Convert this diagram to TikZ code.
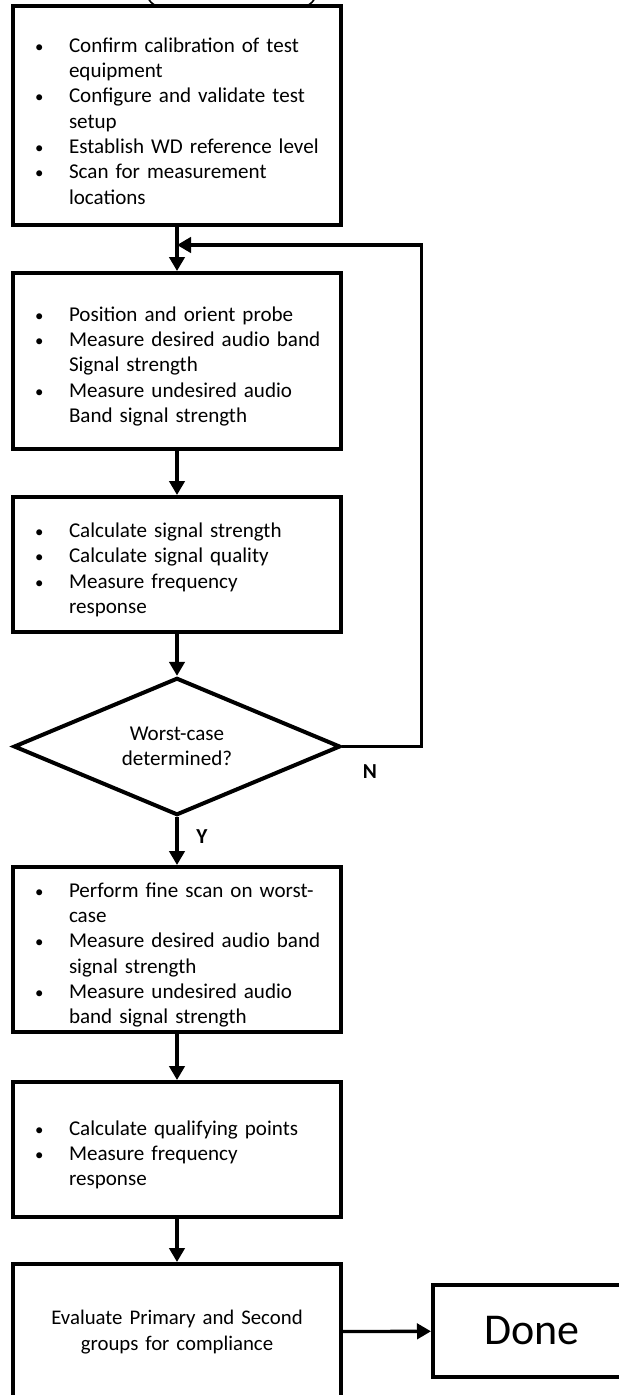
\documentclass[tikz,border=0pt]{standalone}
\usepackage{fontspec}
\setmainfont{Carlito}
\usetikzlibrary{shapes.geometric,arrows.meta}

\newenvironment{stepitems}{%
  \begin{list}{\scalebox{0.8}{\textbullet}}{%
    \setlength\leftmargin{42pt}\setlength\labelwidth{25.5pt}%
    \setlength\labelsep{0pt}\setlength\itemsep{0pt}%
    \setlength\topsep{0pt}\setlength\parsep{0pt}\setlength\partopsep{0pt}%
    \renewcommand\makelabel[1]{##1\hfil}}\raggedright}%
  {\end{list}}

\begin{document}
\begin{tikzpicture}[x=0.75pt,y=-0.75pt]
	\tikzset{
	stepbox/.style={draw,line width=3pt,fill=white,inner sep=0pt,
		minimum width=246pt,text width=246pt,align=left,
		font=\fontsize{15.8pt}{19pt}\selectfont},
	decision/.style={diamond,draw,line width=3pt,fill=white,inner sep=0pt,aspect=2.4,
		minimum width=245pt,minimum height=103pt,align=center,
		font=\fontsize{15.8pt}{19pt}\selectfont},
	arr/.style={line width=2.5pt,-{Triangle[length=10.5pt,width=11.5pt]}},
	yn/.style={font=\fontsize{16pt}{19pt}\selectfont\bfseries}
	}
	\useasboundingbox (0,0) rectangle (618,1395);

	%START (cut off at the top)
	\node (start) [draw,line width=1.2pt,rounded corners=11pt,minimum width=127pt,minimum height=40pt] at (231.5,-20) {};

	\node (prep) [stepbox,minimum height=164.25pt] at (177,115.5) {\begin{stepitems}
		\item Confirm calibration of test\\equipment
		\item Configure and validate test\\setup
		\item Establish WD reference level
		\item Scan for measurement\\locations
	\end{stepitems}};
	\node (probe) [stepbox,minimum height=132pt] at (177,361) {\begin{stepitems}
		\item Position and orient probe
		\item Measure desired audio band\\Signal strength
		\item Measure undesired audio\\Band signal strength
	\end{stepitems}};
	\node (calc) [stepbox,minimum height=101.25pt] at (177,564.5) {\begin{stepitems}
		\item Calculate signal strength
		\item Calculate signal quality
		\item Measure frequency\\response
	\end{stepitems}};
	\node (worst) [decision] at (177,746.5) {Worst-case\\determined?};
	\node (fine) [stepbox,minimum height=123.75pt] at (177,949.5) {\begin{stepitems}
		\item Perform fine scan on worst-\\case
		\item Measure desired audio band\\signal strength
		\item Measure undesired audio\\band signal strength
	\end{stepitems}};
	\node (qual) [stepbox,minimum height=101.25pt] at (177,1149.5) {\begin{stepitems}
		\item Calculate qualifying points
		\item Measure frequency\\response
	\end{stepitems}};
	\node (eval) [stepbox,minimum height=102pt,align=center,font=\fontsize{15.6pt}{19pt}\selectfont] at (177,1332) {Evaluate Primary and Second\\groups for compliance};
	\node (done) [draw,line width=3pt,inner sep=0pt,minimum width=148.5pt,minimum height=69pt,font=\fontsize{33pt}{38pt}\selectfont] at (532,1331) {Done};

	%ARROWS
	\coordinate (loop) at (177,245);
	\draw[arr] (prep) -- (probe);
	\draw[arr] (probe) -- (calc);
	\draw[arr] (calc) -- (worst);
	\draw[arr] (worst) -- (fine) node[yn,pos=0.4,right=10pt] {Y};
	\draw[arr] (fine) -- (qual);
	\draw[arr] (qual) -- (eval);
	\draw[arr] (eval) -- (done);
	%N loop back
	\draw[arr] (worst.east) -- ++(79,0) node[yn,pos=0.35,below=9pt] {N} |- (loop);
\end{tikzpicture}
\end{document}
